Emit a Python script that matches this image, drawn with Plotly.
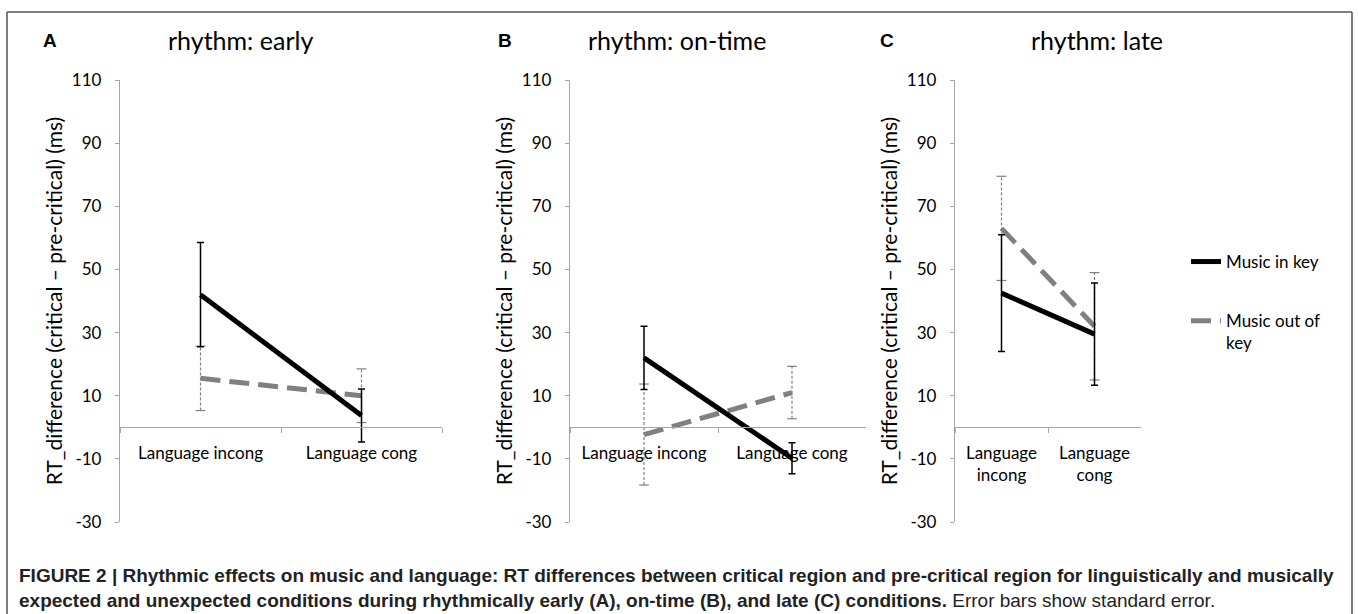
import plotly.graph_objects as go

# ---------------- data ----------------
categories = ["Language incong", "Language cong"]
categories_wrapped = ["Language<br>incong", "Language<br>cong"]
panel_titles = ["rhythm: early", "rhythm: on-time", "rhythm: late"]
panel_letters = ["A", "B", "C"]

in_key_early = [42.0, 3.7]
in_key_early_se = [16.5, 8.4]
out_key_early = [15.5, 10.0]
out_key_early_se = [10.2, 8.5]

in_key_ontime = [22.0, -9.8]
in_key_ontime_se = [10.0, 4.9]
out_key_ontime = [-2.3, 11.0]
out_key_ontime_se = [16.0, 8.3]

in_key_late = [42.5, 29.5]
in_key_late_se = [18.5, 16.2]
out_key_late = [63.0, 32.0]
out_key_late_se = [16.5, 17.0]

series_in = [in_key_early, in_key_ontime, in_key_late]
series_in_se = [in_key_early_se, in_key_ontime_se, in_key_late_se]
series_out = [out_key_early, out_key_ontime, out_key_late]
series_out_se = [out_key_early_se, out_key_ontime_se, out_key_late_se]

y_ticks = [-30, -10, 10, 30, 50, 70, 90, 110]
y_tick_labels = ["-30", "-10", "10", "30", "50", "70", "90", "110"]
y_title = "RT_difference (critical – pre-critical) (ms)"
legend_names = ["Music in key", "Music out of<br>key"]
caption_1 = ("<b>FIGURE 2 | Rhythmic effects on music and language: RT differences between critical region "
             "and pre-critical region for linguistically and musically</b>")
caption_2 = ("<b>expected and unexpected conditions during rhythmically early (A), on-time (B), and late (C) "
             "conditions.</b> Error bars show standard error.")

# ---------------- layout geometry (pixels) ----------------
W, H = 1358, 614
def fx(p):
    return p / W
def fy(p):
    return 1 - p / H

x_domains = [(120, 442), (570, 866), (955, 1141)]
y_top, y_bot = 80, 522
y_range = [-30, 110]
y_dom = [fy(y_bot), fy(y_top)]
zero_pos = y_dom[0] + (0 - y_range[0]) / (y_range[1] - y_range[0]) * (y_dom[1] - y_dom[0])

FONT = "Lato"
AXIS_GRAY = "#a6a6a6"
OUT_GRAY = "#808080"

fig = go.Figure()

for i in range(3):
    xa = "x" if i == 0 else f"x{i+1}"
    ya = "y" if i == 0 else f"y{i+1}"
    show = (i == 2)
    # out-of-key error bars (dashed, gray)
    ex, ey = [], []
    for c, m, s in zip(categories, series_out[i], series_out_se[i]):
        ex += [c, c, None]
        ey += [m - s, m + s, None]
    fig.add_trace(go.Scatter(
        x=ex, y=ey, mode="lines+markers", xaxis=xa, yaxis=ya, showlegend=False,
        legendgroup="out",
        line=dict(color=OUT_GRAY, width=1.2, dash="3px,2px"),
        marker=dict(symbol="line-ew", size=7, line=dict(color=OUT_GRAY, width=1.2)),
        hoverinfo="skip"))
    # out-of-key line
    fig.add_trace(go.Scatter(
        x=categories, y=series_out[i], mode="lines", xaxis=xa, yaxis=ya,
        name=legend_names[1], showlegend=show, legendrank=2, legendgroup="out",
        line=dict(color=OUT_GRAY, width=5, dash="20px,9px")))
    # in-key line with error bars
    fig.add_trace(go.Scatter(
        x=categories, y=series_in[i], mode="lines", xaxis=xa, yaxis=ya,
        name=legend_names[0], showlegend=show, legendrank=1, legendgroup="in",
        line=dict(color="black", width=5),
        error_y=dict(type="data", array=series_in_se[i], color="black",
                     thickness=1.5, width=3.5)))

layout = dict(
    width=W, height=H,
    margin=dict(l=0, r=0, t=0, b=0, autoexpand=False),
    paper_bgcolor="white", plot_bgcolor="white",
    font=dict(family=FONT, size=17, color="black"),
    showlegend=True,
    legend=dict(x=fx(1186), y=fy(244), xanchor="left", yanchor="top",
                font=dict(family=FONT, size=17, color="black"),
                valign="top", tracegroupgap=34, bgcolor="rgba(0,0,0,0)"),
)

for i in range(3):
    xk = "xaxis" if i == 0 else f"xaxis{i+1}"
    yk = "yaxis" if i == 0 else f"yaxis{i+1}"
    xname = "x" if i == 0 else f"x{i+1}"
    d0, d1 = x_domains[i]
    xa = dict(domain=[fx(d0), fx(d1)], anchor="free", position=zero_pos,
              type="category", categoryorder="array", categoryarray=categories,
              range=[-0.5, 1.5], automargin=False,
              showline=True, linecolor=AXIS_GRAY, linewidth=1.3,
              ticks="outside", ticklen=5, tickcolor=AXIS_GRAY, tickwidth=1.3,
              tickson="boundaries", showgrid=False, zeroline=False,
              tickfont=dict(family=FONT, size=17, color="black"),
              ticklabelstandoff=10)
    if i == 2:
        xa["tickvals"] = categories
        xa["ticktext"] = categories_wrapped
    layout[xk] = xa
    layout[yk] = dict(domain=y_dom, anchor=xname, range=y_range, automargin=False,
                      tickvals=y_ticks, ticktext=y_tick_labels,
                      showline=True, linecolor=AXIS_GRAY, linewidth=1.3,
                      ticks="outside", ticklen=4, tickcolor=AXIS_GRAY, tickwidth=1.3,
                      showgrid=False, zeroline=False,
                      tickfont=dict(family=FONT, size=17, color="black"),
                      ticklabelstandoff=10,
                      title=dict(text=y_title, font=dict(family=FONT, size=21, color="black"),
                                 standoff=3))

fig.update_layout(**layout)

# panel titles and letters
title_x = [240, 677, 1097]
letter_x = [50, 505, 887]
for i in range(3):
    fig.add_annotation(x=fx(title_x[i]), y=fy(40), xref="paper", yref="paper",
                       text=panel_titles[i], showarrow=False,
                       font=dict(family=FONT, size=25, color="black"),
                       xanchor="center", yanchor="middle")
    fig.add_annotation(x=fx(letter_x[i]), y=fy(40), xref="paper", yref="paper",
                       text="<b>" + panel_letters[i] + "</b>", showarrow=False,
                       font=dict(family="Liberation Sans", size=19, color="black"),
                       xanchor="center", yanchor="middle")

# caption
fig.add_annotation(x=fx(17), y=fy(575), xref="paper", yref="paper", text=caption_1,
                   showarrow=False, xanchor="left", yanchor="middle", align="left",
                   font=dict(family="Liberation Sans", size=19, color="#222222"))
fig.add_annotation(x=fx(17), y=fy(600), xref="paper", yref="paper", text=caption_2,
                   showarrow=False, xanchor="left", yanchor="middle", align="left",
                   font=dict(family="Liberation Sans", size=19, color="#222222"))

# frame
frame_col = "#555555"
fig.add_shape(type="line", xref="paper", yref="paper", x0=fx(7), x1=fx(1352), y0=fy(12), y1=fy(12),
              line=dict(color=frame_col, width=1.5))
fig.add_shape(type="line", xref="paper", yref="paper", x0=fx(7), x1=fx(7), y0=fy(12), y1=0,
              line=dict(color=frame_col, width=1.5))
fig.add_shape(type="line", xref="paper", yref="paper", x0=fx(1352), x1=fx(1352), y0=fy(12), y1=0,
              line=dict(color=frame_col, width=1.5))

fig.write_html("out.html", config={"displayModeBar": False},
               post_script="document.body.style.margin='0px';document.body.style.padding='0px';")
